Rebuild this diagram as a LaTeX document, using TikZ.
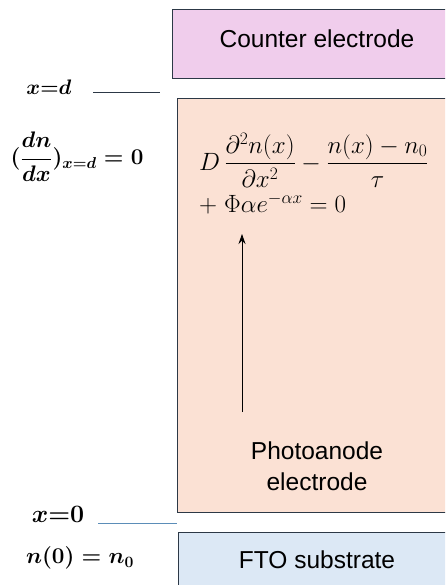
\RequirePackage{fix-cm}
\documentclass[tikz,border=0pt]{standalone}
\usepackage{amsmath,amssymb}
\usepackage{fontspec}
\setsansfont{Liberation Sans}
\definecolor{CounterPink}{RGB}{240,205,236}
\definecolor{AnodePeach}{RGB}{251,225,212}
\definecolor{FtoBlue}{RGB}{220,232,245}
\definecolor{EdgeDark}{RGB}{44,56,70}
\definecolor{LineBlue}{RGB}{91,141,184}
\usetikzlibrary{arrows.meta,positioning}

\begin{document}
\begin{tikzpicture}[x=1pt, y=-1pt,
        layer/.style={rectangle, draw=EdgeDark, line width=1.2pt, anchor=north west, inner sep=0pt},
        lbl/.style={font=\fontsize{22.5}{27}\selectfont\boldmath, inner sep=0pt},
        eqn/.style={font=\fontsize{25}{30}\selectfont, inner sep=0pt, anchor=west},
        txt/.style={font=\sffamily\fontsize{24.5}{31}\selectfont, align=center, inner sep=0pt},
        levelline/.style={line width=0.8pt}
      ]
        \useasboundingbox (0,0) rectangle (445,585);
        \clip (0,0) rectangle (445,585);
        % Layers
        \node[layer, fill=CounterPink, minimum width=290pt, minimum height=69pt] (ce) at (172,9) {};
        \node[layer, fill=AnodePeach, minimum width=280pt, minimum height=414pt] (pa) at (177,98) {};
        \node[layer, fill=FtoBlue, minimum width=280pt, minimum height=58pt] (fto) at (178,532) {};
        \node[txt] (cetext) at (317,39) {Counter electrode};
        \node[txt] (patext) at (317,466) {Photoanode\\electrode};
        \node[txt] (ftotext) at (317,560) {FTO substrate};
        % Equation
        \node[eqn] (eq1) at (199,160) {$D\,\dfrac{\partial^2 n(x)}{\partial x^2}-\dfrac{n(x)-n_0}{\tau}$};
        \node[eqn, anchor=north west] (eq2) at ([yshift=-6pt]eq1.south west) {$+\;\Phi\alpha e^{-\alpha x}=0$};
        \coordinate (arrfoot) at (242,412);
        \coordinate (arrtip) at (242,234);
        \draw[-{Stealth[length=10pt,width=7pt]}, line width=0.8pt] (arrfoot) -- (arrtip);
        % Boundary conditions
        \node[lbl, font=\fontsize{21}{25}\selectfont\boldmath] (xd) at (49,87) {$\boldsymbol{x{=}d}$};
        \coordinate (xdl) at (93,92);
        \coordinate (xdr) at (160,92);
        \draw[levelline, EdgeDark] (xdl) -- (xdr);
        \node[lbl] (bcd) at (77,157) {$(\dfrac{dn}{dx})_{x=d}=0$};
        \node[lbl, font=\fontsize{25}{30}\selectfont\boldmath] (x0) at (58,514) {$\boldsymbol{x{=}0}$};
        \coordinate (x0l) at (98,523);
        \coordinate (x0r) at (177,523);
        \draw[levelline, LineBlue] (x0l) -- (x0r);
        \node[lbl] (bc0) at (80,558) {$n(0)=n_0$};
      \end{tikzpicture}
\end{document}
